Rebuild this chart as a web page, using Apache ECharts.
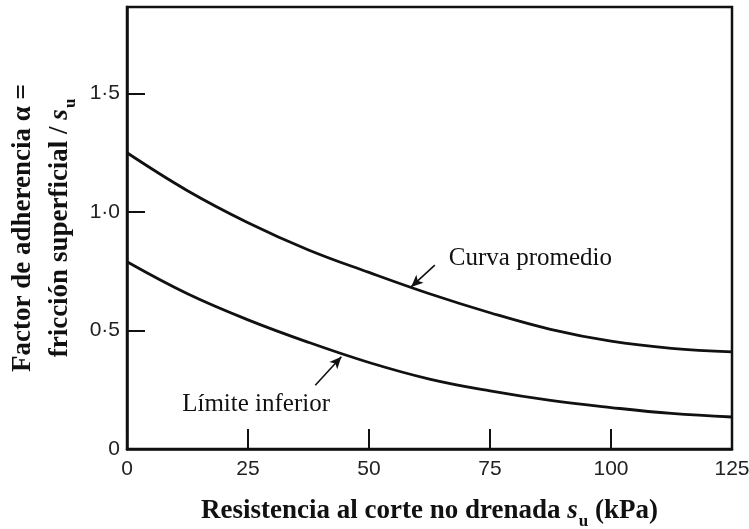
<!DOCTYPE html>
<html>
<head>
<meta charset="utf-8">
<script src="https://cdn.jsdelivr.net/npm/echarts@6/dist/echarts.min.js"></script>
<style>
  html, body { margin: 0; padding: 0; background: #fff; }
  #chart { width: 749px; height: 529px; }
</style>
</head>
<body>
<div id="chart"></div>
<script>
// resistencia al corte no drenada su (kPa)
var suValues = [0, 12.5, 25, 37.5, 50, 62.5, 75, 87.5, 100, 112.5, 125];
// factor de adherencia
var curvaPromedio = [1.25, 1.09, 0.955, 0.84, 0.745, 0.655, 0.575, 0.505, 0.455, 0.425, 0.41];
var limiteInferior = [0.79, 0.655, 0.545, 0.45, 0.365, 0.295, 0.245, 0.205, 0.175, 0.15, 0.135];

var xTicks = [0, 25, 50, 75, 100, 125];
var yTickLabels = { '0': '0', '0.5': '0·5', '1': '1·0', '1.5': '1·5' };

// anotaciones (coordenadas en unidades de los ejes)
var labelPromedio = [66.5, 0.806];
var arrowPromedio = [[63.6, 0.776], [58.7, 0.684]];
var labelInferior = [11.4, 0.19];
var arrowInferior = [[38.9, 0.269], [44.3, 0.389]];

var serif = '"Liberation Serif", "DejaVu Serif", serif';
var sans = '"Liberation Sans", Arial, sans-serif';
var ink = '#111';

function pairs(xs, ys) {
    var out = [];
    for (var i = 0; i < xs.length; i++) {
        out.push([xs[i], ys[i]]);
    }
    return out;
}

var titleRich = {
    b: { fontFamily: serif, fontWeight: 'bold', fontSize: 27, color: ink, lineHeight: 37 },
    i: { fontFamily: serif, fontWeight: 'bold', fontStyle: 'italic', fontSize: 27, color: ink, lineHeight: 37 },
    sub: { fontFamily: serif, fontWeight: 'bold', fontSize: 17, color: ink, lineHeight: 17, padding: [16, 0, 0, 1], verticalAlign: 'bottom' }
};

var annoLabel = {
    show: true,
    position: 'right',
    distance: 0,
    fontFamily: serif,
    fontSize: 25,
    color: ink,
    formatter: function (p) { return p.name; }
};

var arrowStyle = {
    silent: true,
    symbol: ['none', 'arrow'],
    symbolSize: [8, 12],
    label: { show: false },
    lineStyle: { color: ink, width: 1.6, type: 'solid' }
};

var chart = echarts.init(document.getElementById('chart'));

var option = {
    animation: false,
    backgroundColor: '#fff',
    grid: {
        left: 127,
        right: 17,
        top: 7,
        bottom: 80,
        outerBoundsMode: 'none',
        containLabel: false,
        show: true,
        borderColor: ink,
        borderWidth: 2.5
    },
    xAxis: {
        type: 'value',
        min: 0,
        max: 125,
        interval: 25,
        name: '{b|Resistencia al corte no drenada }{i|s}{sub|u}{b| (kPa)}',
        nameLocation: 'middle',
        nameGap: 44,
        nameTextStyle: { rich: titleRich },
        axisLine: { show: true, lineStyle: { color: ink, width: 2.5 } },
        axisTick: { show: true, inside: true, length: 20, lineStyle: { color: ink, width: 2 } },
        splitLine: { show: false },
        axisLabel: {
            margin: 10,
            fontFamily: sans,
            fontSize: 21,
            color: '#222',
            formatter: function (v) { return xTicks.indexOf(v) >= 0 ? String(v) : ''; }
        }
    },
    yAxis: {
        type: 'value',
        min: 0,
        max: 1.865,
        interval: 0.5,
        name: '{b|Factor de adherencia α =}\n{b|fricción superficial / }{i|s}{sub|u}',
        nameLocation: 'middle',
        nameRotate: 90,
        nameGap: 48,
        nameTextStyle: { rich: titleRich },
        axisLine: { show: true, lineStyle: { color: ink, width: 2.5 } },
        axisTick: { show: true, inside: true, length: 18, lineStyle: { color: ink, width: 2 } },
        splitLine: { show: false },
        axisLabel: {
            margin: 7,
            fontFamily: sans,
            fontSize: 21,
            color: '#222',
            showMaxLabel: false,
            formatter: function (v) {
                var k = String(Math.round(v * 10) / 10);
                return yTickLabels[k] !== undefined ? yTickLabels[k] : '';
            }
        }
    },
    series: [
        {
            name: 'Curva promedio',
            type: 'line',
            smooth: 0.4,
            symbol: 'none',
            data: pairs(suValues, curvaPromedio),
            lineStyle: { color: ink, width: 2.8 },
            markPoint: {
                silent: true,
                symbol: 'circle',
                symbolSize: 0,
                label: annoLabel,
                data: [{ name: 'Curva promedio', coord: labelPromedio }]
            },
            markLine: Object.assign({}, arrowStyle, {
                data: [[{ coord: arrowPromedio[0] }, { coord: arrowPromedio[1] }]]
            })
        },
        {
            name: 'Límite inferior',
            type: 'line',
            smooth: 0.4,
            symbol: 'none',
            data: pairs(suValues, limiteInferior),
            lineStyle: { color: ink, width: 2.8 },
            markPoint: {
                silent: true,
                symbol: 'circle',
                symbolSize: 0,
                label: annoLabel,
                data: [{ name: 'Límite inferior', coord: labelInferior }]
            },
            markLine: Object.assign({}, arrowStyle, {
                data: [[{ coord: arrowInferior[0] }, { coord: arrowInferior[1] }]]
            })
        }
    ]
};

chart.setOption(option);
</script>
</body>
</html>
